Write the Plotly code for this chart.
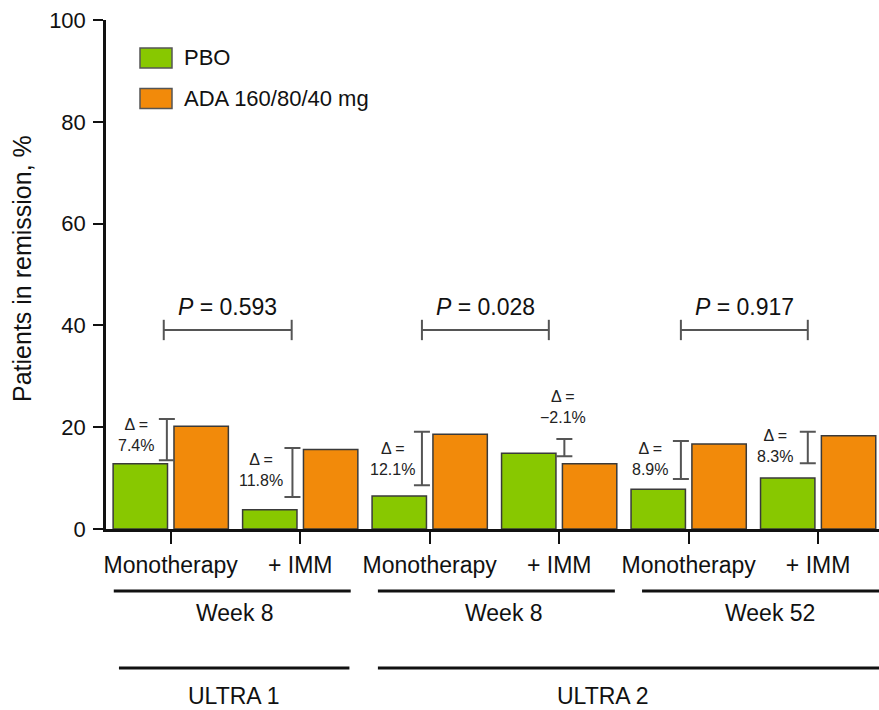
import plotly.graph_objects as go

# ---- data ----
categories = ["Monotherapy", "+ IMM", "Monotherapy", "+ IMM", "Monotherapy", "+ IMM"]
pbo = [12.8, 3.8, 6.5, 14.9, 7.8, 10.0]
ada = [20.2, 15.6, 18.6, 12.8, 16.7, 18.3]
delta_labels = ["7.4%", "11.8%", "12.1%", "\u22122.1%", "8.9%", "8.3%"]
p_labels = ["0.593", "0.028", "0.917"]
week_labels = ["Week 8", "Week 8", "Week 52"]
study_labels = ["ULTRA 1", "ULTRA 2"]

# bracket extents
br_x = [-0.03, 0.94, 1.94, 3.04, 3.94, 4.92]
br_lo = [13.5, 6.3, 8.6, 14.3, 9.8, 12.9]
br_hi = [21.6, 15.9, 19.1, 17.7, 17.3, 19.1]
dl_x = [-0.27, 0.70, 1.71, 3.03, 3.70, 4.67]
dl_y = [18.5, 11.6, 13.85, 23.9, 13.85, 16.4]

xs = list(range(len(categories)))
GREEN = "#88C800"
ORANGE = "#F28A0A"
EDGE = "#3a3a3a"
FONT = "Liberation Sans, Arial, sans-serif"

fig = go.Figure()
fig.add_trace(go.Bar(x=xs, y=pbo, name="PBO", width=0.42, offset=-0.445,
                     marker=dict(color=GREEN, line=dict(color=EDGE, width=1.5)),
                     showlegend=False))
fig.add_trace(go.Bar(x=xs, y=ada, name="ADA 160/80/40 mg", width=0.42, offset=0.025,
                     marker=dict(color=ORANGE, line=dict(color=EDGE, width=1.5)),
                     showlegend=False))

# delta brackets as error bars
fig.add_trace(go.Scatter(
    x=br_x, y=br_lo, mode="markers", marker=dict(size=1, opacity=0),
    error_y=dict(type="data", symmetric=False,
                 array=[h - l for h, l in zip(br_hi, br_lo)],
                 arrayminus=[0] * len(br_lo),
                 width=8, thickness=2, color="#555555"),
    showlegend=False, hoverinfo="skip"))

for x, y, t in zip(dl_x, dl_y, delta_labels):
    fig.add_annotation(x=x, y=y, xref="x", yref="y", text="\u0394 =<br>" + t,
                       showarrow=False, font=dict(family=FONT, size=16, color="#222"),
                       xanchor="center", yanchor="middle")

# P-value brackets
p_x0 = [-0.054, 1.94, 3.94]
p_x1 = [0.934, 2.92, 4.92]
p_y = 39.1
for x0, x1, p in zip(p_x0, p_x1, p_labels):
    fig.add_trace(go.Scatter(
        x=[x0, x1, None, x0, x0, None, x1, x1],
        y=[p_y, p_y, None, p_y - 2, p_y + 2, None, p_y - 2, p_y + 2],
        mode="lines", line=dict(color="#555555", width=2),
        showlegend=False, hoverinfo="skip"))
    fig.add_annotation(x=(x0 + x1) / 2, y=43.6, xref="x", yref="y",
                       text="<i>P</i> = " + p, showarrow=False,
                       font=dict(family=FONT, size=23, color="#111"),
                       xanchor="center", yanchor="middle")

# group lines and labels below axis
H = 509.0
def py(p):
    return (529 - p) / H

week_x0 = [-0.44, 1.60, 3.64]
week_x1 = [1.39, 3.43, 5.47]
week_cx = [0.50, 2.57, 4.63]
for x0, x1, cx, lab in zip(week_x0, week_x1, week_cx, week_labels):
    fig.add_shape(type="line", xref="x", yref="paper", x0=x0, x1=x1,
                  y0=py(591), y1=py(591), line=dict(color="#111", width=3))
    fig.add_annotation(x=cx, y=py(613), xref="x", yref="paper", text=lab,
                       showarrow=False, font=dict(family=FONT, size=23, color="#111"),
                       xanchor="center", yanchor="middle")

st_x0 = [-0.40, 1.60]
st_x1 = [1.38, 5.47]
st_cx = [0.49, 3.34]
for x0, x1, cx, lab in zip(st_x0, st_x1, st_cx, study_labels):
    fig.add_shape(type="line", xref="x", yref="paper", x0=x0, x1=x1,
                  y0=py(668), y1=py(668), line=dict(color="#111", width=3))
    fig.add_annotation(x=cx, y=py(696), xref="x", yref="paper", text=lab,
                       showarrow=False, font=dict(family=FONT, size=23, color="#111"),
                       xanchor="center", yanchor="middle")

# manual legend
W = 773.0
def px(p):
    return (p - 106) / W

leg = [("PBO", GREEN, 58), ("ADA 160/80/40 mg", ORANGE, 98.5)]
for lab, col, cy in leg:
    fig.add_shape(type="rect", xref="paper", yref="paper",
                  x0=px(140), x1=px(172), y0=py(cy + 10), y1=py(cy - 10),
                  fillcolor=col, line=dict(color="#555", width=1.5))
    fig.add_annotation(x=px(182), y=py(cy), xref="paper", yref="paper", text=lab,
                       showarrow=False, font=dict(family=FONT, size=22, color="#111"),
                       xanchor="left", yanchor="middle")

# y-axis title
fig.add_annotation(x=px(22), y=py(269), xref="paper", yref="paper",
                   text="Patients in remission, %", textangle=-90, showarrow=False,
                   font=dict(family=FONT, size=25, color="#111"),
                   xanchor="center", yanchor="middle")

fig.update_layout(
    width=879, height=710,
    margin=dict(l=106, r=0, t=20, b=181),
    paper_bgcolor="white", plot_bgcolor="white",
    font=dict(family=FONT, size=22, color="#111"),
    xaxis=dict(range=[-0.5, 5.47], tickvals=xs, ticktext=categories,
               tickfont=dict(size=23),
               showgrid=False, zeroline=False, showline=True, linecolor="#111",
               linewidth=2.5, ticks="outside", ticklen=12, tickwidth=2,
               tickcolor="#111", ticklabelstandoff=2),
    yaxis=dict(range=[0, 100], tickvals=[0, 20, 40, 60, 80, 100],
               showgrid=False, zeroline=False, showline=True, linecolor="#111",
               linewidth=2.5, ticks="outside", ticklen=10, tickwidth=2,
               tickcolor="#111", ticklabelstandoff=3),
)

fig.write_html("out.html")
